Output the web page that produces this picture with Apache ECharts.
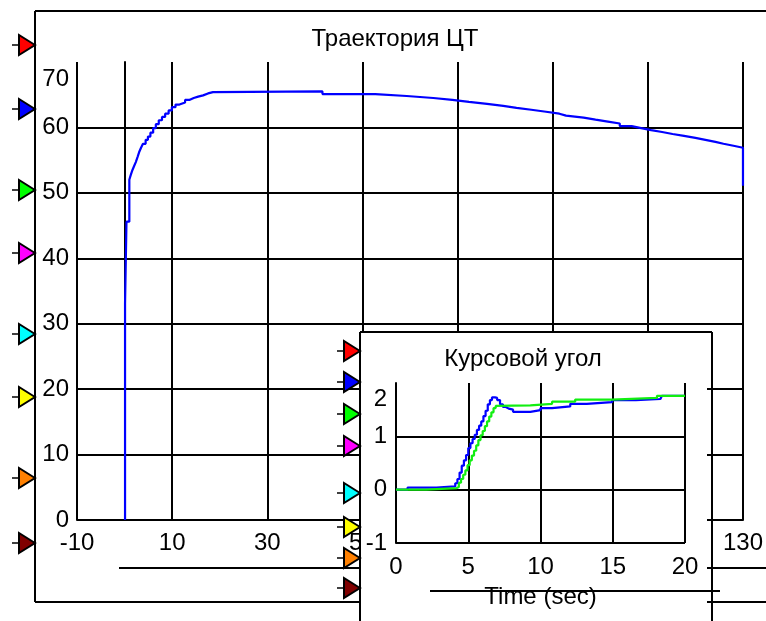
<!DOCTYPE html>
<html>
<head>
<meta charset="utf-8">
<script src="https://cdn.jsdelivr.net/npm/echarts@6.0.0/dist/echarts.min.js"></script>
<style>
  html, body { margin: 0; padding: 0; background: #fff; }
  #chart { width: 766px; height: 621px; }
</style>
</head>
<body>
<div id="chart"></div>
<script>
// main plot: CG trajectory (stair-stepped samples)
const trajX = [0.1, 0.1, 0.4, 1.0, 1.29, 1.66, 2.01, 2.36, 2.74, 3.05, 3.46, 3.87, 4.43, 4.91, 5.43, 6.01, 6.57,
  7.19, 7.87, 8.53, 9.26, 9.94, 10.71, 11.54, 12.72, 13.61, 14.54, 15.47, 16.51, 17.54, 18.58,
  41.6, 52.7, 59.3, 64.9, 68.9, 72.4, 76.2, 79.6, 82.4, 85.5, 88.6, 91.4, 92.8, 96.5, 99.0,
  101.6, 104.1, 106.6, 108.6, 110.7, 113.0, 115.2, 117.6, 120.0, 122.1, 124.2, 125.9, 128.0, 130];
const trajY = [0, 33, 45.6, 52.0, 52.7, 53.5, 54.1, 54.7, 55.5, 56.2, 56.9, 57.5, 58.1, 58.6, 59.2, 59.9, 60.5,
  61.1, 61.6, 62.1, 62.6, 63.1, 63.5, 63.8, 64.2, 64.5, 64.7, 64.9, 65.2, 65.4, 65.5,
  65.1, 64.8, 64.5, 64.2, 63.9, 63.6, 63.3, 63.0, 62.7, 62.4, 62.1, 61.8, 61.5, 61.2, 60.9,
  60.6, 60.2, 59.9, 59.6, 59.3, 59.0, 58.7, 58.4, 58.1, 57.8, 57.5, 57.2, 56.9, 51.1];

// inset: heading angle, two signals
const yawTimeBlue = [0, 0.8, 2.8, 4.1, 4.25, 4.4, 4.55, 4.7, 4.85, 5.0, 5.15, 5.3, 5.45, 5.6, 5.75, 5.9, 6.05,
  6.2, 6.35, 6.5, 6.64, 6.85, 7.0, 7.2, 7.4, 7.6, 7.8, 8.1, 9.3, 10, 10.8, 12.06, 13.2, 14.95, 16.6, 18.3, 18.4, 20];
const yawBlue = [0, 0.04, 0.06, 0.12, 0.2, 0.32, 0.45, 0.55, 0.65, 0.78, 0.87, 0.95, 1.03, 1.12, 1.2, 1.28, 1.38,
  1.48, 1.6, 1.68, 1.73, 1.72, 1.68, 1.6, 1.55, 1.52, 1.5, 1.46, 1.49, 1.53, 1.56, 1.61, 1.64, 1.68, 1.70, 1.72, 1.76, 1.76];
const yawTimeGreen = [0, 2.1, 4.2, 4.35, 4.5, 4.65, 4.8, 4.95, 5.1, 5.25, 5.4, 5.55, 5.7, 5.85, 6.0, 6.15, 6.3,
  6.45, 6.6, 6.75, 6.9, 7.0, 9.3, 10.8, 12.4, 14.95, 18.06, 20];
const yawGreen = [0, 0.03, 0.05, 0.13, 0.2, 0.28, 0.36, 0.46, 0.55, 0.64, 0.73, 0.83, 0.93, 1.02, 1.1, 1.19, 1.28,
  1.37, 1.45, 1.53, 1.57, 1.58, 1.61, 1.65, 1.69, 1.72, 1.76, 1.76];

const mainTitle = 'Траектория ЦТ';
const insetTitle = 'Курсовой угол';
const insetXName = 'Time (sec)';

const FONT = "'Liberation Sans', Arial, sans-serif";
const FS = 24;
const portColors = ['#ff0000', '#0000ff', '#00ff00', '#ff00ff', '#00ffff', '#ffff00', '#ff8000', '#800000'];
const mainPortY = [45, 109, 190, 253, 334, 397, 478, 543];
const insetPortY = [351, 382, 414, 446, 493, 527, 558, 588];

const pairs = (xs, ys) => xs.map((x, i) => [x, ys[i]]);
const black = (w) => ({ color: '#000', width: w });

// top tick label sits a bit lower than its tick
function shiftedTop(max, pad) {
  return {
    formatter: (v) => (v === max ? '{top|' + v + '}' : String(v)),
    rich: { top: { padding: [pad, 0, 0, 0], fontSize: FS, fontFamily: FONT, color: '#000' } }
  };
}

function hline(x1, x2, y, z) {
  return { type: 'line', shape: { x1, y1: y, x2, y2: y }, style: { stroke: '#000', lineWidth: 2 }, z };
}
function vline(x, y1, y2, z) {
  return { type: 'line', shape: { x1: x, y1, x2: x, y2 }, style: { stroke: '#000', lineWidth: 2 }, z };
}
function port(tipX, cy, color, z) {
  return [
    { type: 'line', shape: { x1: tipX - 23, y1: cy, x2: tipX - 16, y2: cy }, style: { stroke: '#000', lineWidth: 1.5 }, z },
    {
      type: 'polygon',
      shape: { points: [[tipX, cy], [tipX - 16, cy - 10], [tipX - 16, cy + 10]] },
      style: { fill: color, stroke: '#000', lineWidth: 2 },
      z
    }
  ];
}
function label(text, x, y, z) {
  return {
    type: 'text', x, y, z,
    style: { text, font: FS + 'px ' + FONT, fill: '#000', align: 'center', verticalAlign: 'middle' }
  };
}

const graphics = [
  // main frame
  vline(35, 11, 602, 1), hline(35, 766, 11, 1), hline(35, 766, 602, 1),
  hline(119, 766, 568, 1),
  label(mainTitle, 395, 39, 1),
  // inset box covers the main plot
  { type: 'rect', shape: { x: 361, y: 333, width: 346, height: 290 }, style: { fill: '#fff' }, z: 5 },
  vline(360, 332, 621, 8), hline(360, 712, 332, 8), vline(712, 332, 621, 8),
  hline(430, 720, 591, 8),
  label(insetTitle, 523, 359, 8)
];
mainPortY.forEach((y, i) => graphics.push(...port(35, y, portColors[i], 3)));
insetPortY.forEach((y, i) => graphics.push(...port(360, y, portColors[i], 9)));

const labelStyle = { fontSize: FS, fontFamily: FONT, color: '#000' };

const chart = echarts.init(document.getElementById('chart'));
chart.setOption({
  animation: false,
  backgroundColor: '#fff',
  grid: [
    { left: 77, top: 62, right: 13, bottom: 101 },
    { left: 396, top: 383, right: 81, bottom: 78 }
  ],
  xAxis: [
    {
      type: 'value', gridIndex: 0, min: -10, max: 130, interval: 20, z: 0,
      axisLine: { lineStyle: black(2) }, axisTick: { show: false },
      splitLine: { show: true, lineStyle: black(2) },
      axisLabel: { ...labelStyle, margin: 11 }
    },
    {
      type: 'value', gridIndex: 1, min: 0, max: 20, interval: 5, z: 6,
      axisLine: { lineStyle: black(2) }, axisTick: { show: false },
      splitLine: { show: true, lineStyle: black(2) },
      axisLabel: { ...labelStyle, margin: 12 },
      name: insetXName, nameLocation: 'middle', nameGap: 42,
      nameTextStyle: labelStyle
    }
  ],
  yAxis: [
    {
      type: 'value', gridIndex: 0, min: 0, max: 70, interval: 10, z: 0,
      axisLine: { show: true, lineStyle: black(2) }, axisTick: { show: false },
      splitLine: { show: true, showMaxLine: false, lineStyle: black(2) },
      axisLabel: { ...labelStyle, margin: 8, ...shiftedTop(70, 34) }
    },
    {
      type: 'value', gridIndex: 1, min: -1, max: 2, interval: 1, z: 6,
      axisLine: { show: true, lineStyle: black(2) }, axisTick: { show: false },
      splitLine: { show: true, showMaxLine: false, lineStyle: black(2) },
      axisLabel: { ...labelStyle, margin: 9, ...shiftedTop(2, 32) }
    }
  ],
  series: [
    {
      type: 'line', xAxisIndex: 0, yAxisIndex: 0, step: 'end', showSymbol: false, z: 2,
      data: pairs(trajX, trajY), lineStyle: { color: '#0000ff', width: 2.2 }
    },
    {
      type: 'line', xAxisIndex: 1, yAxisIndex: 1, step: 'end', showSymbol: false, z: 7,
      data: pairs(yawTimeBlue, yawBlue), lineStyle: { color: '#0000ff', width: 2.2 }
    },
    {
      type: 'line', xAxisIndex: 1, yAxisIndex: 1, step: 'end', showSymbol: false, z: 7,
      data: pairs(yawTimeGreen, yawGreen), lineStyle: { color: '#11ee11', width: 2.2 }
    }
  ],
  graphic: graphics
});
</script>
</body>
</html>
